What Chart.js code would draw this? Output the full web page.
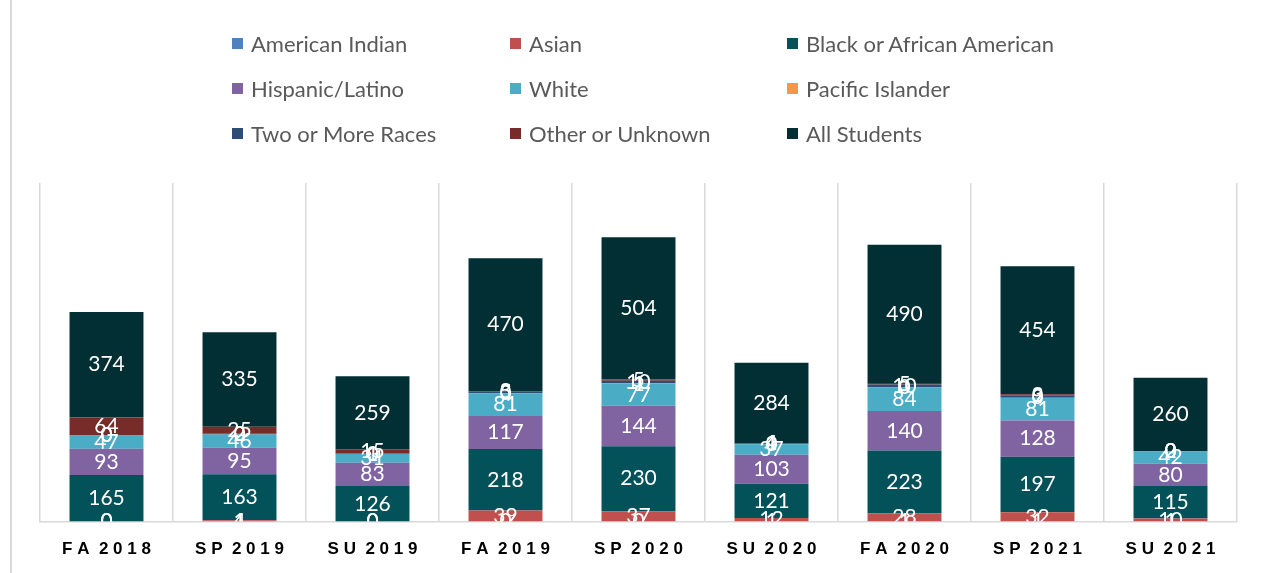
<!DOCTYPE html>
<html>
<head>
<meta charset="utf-8">
<script src="https://cdn.jsdelivr.net/npm/chart.js@4.4.0/dist/chart.umd.min.js"></script>
<style>
  body { margin: 0; background: #fff; }
  .wrap { position: relative; width: 1264px; height: 573px; }
  .frame { position: absolute; left: 10px; top: 0; width: 2px; height: 573px; background: #d9d9d9; }
  .legend { position: absolute; left: 232px; top: 21px; display: grid; grid-template-columns: 278px 277px 300px; grid-auto-rows: 45px; font-family: Lato, "Noto Sans", sans-serif; font-size: 22px; color: #595959; }
  .legend div { display: flex; align-items: center; white-space: nowrap; }
  .legend span { display: inline-block; width: 11px; height: 11px; margin-right: 8px; }
</style>
</head>
<body>
<div class="wrap">
  <div class="frame"></div>
  <canvas id="enrollChart"></canvas>
  <div class="legend" id="legend"></div>
</div>
<script>
// terms on the x axis
const terms = ['FA 2018', 'SP 2019', 'SU 2019', 'FA 2019', 'SP 2020', 'SU 2020', 'FA 2020', 'SP 2021', 'SU 2021'];

// headcounts per group (bottom of stack first)
const americanIndian = [0, 1, 0, 0, 0, 1, 1, 1, 1];
const asian = [0, 4, 0, 39, 37, 12, 28, 32, 10];
const black = [165, 163, 126, 218, 230, 121, 223, 197, 115];
const hispanic = [93, 95, 83, 117, 144, 103, 140, 128, 80];
const white = [47, 46, 31, 81, 77, 37, 84, 81, 42];
const pacificIslander = [0, 0, 0, 0, 1, 0, 0, 0, 0];
const twoOrMore = [0, 2, 1, 5, 10, 4, 10, 9, 2];
const otherUnknown = [64, 25, 15, 3, 5, 1, 5, 3, 0];
const allStudents = [374, 335, 259, 470, 504, 284, 490, 454, 260];

const series = [
  { label: 'American Indian', data: americanIndian, color: '#4F81BD' },
  { label: 'Asian', data: asian, color: '#C0504D' },
  { label: 'Black or African American', data: black, color: '#03525A' },
  { label: 'Hispanic/Latino', data: hispanic, color: '#8064A2' },
  { label: 'White', data: white, color: '#4BACC6' },
  { label: 'Pacific Islander', data: pacificIslander, color: '#F79646' },
  { label: 'Two or More Races', data: twoOrMore, color: '#2C4D75' },
  { label: 'Other or Unknown', data: otherUnknown, color: '#772C2A' },
  { label: 'All Students', data: allStudents, color: '#022F33' }
];

// html legend, 3 columns like the original
const legendEl = document.getElementById('legend');
series.forEach(s => {
  const item = document.createElement('div');
  item.innerHTML = '<span style="background:' + s.color + '"></span>' + s.label;
  legendEl.appendChild(item);
});

// white value labels centred in each segment
const segmentLabels = {
  id: 'segmentLabels',
  afterDatasetsDraw(chart) {
    const ctx = chart.ctx;
    const area = chart.chartArea;
    ctx.save();
    ctx.beginPath();
    ctx.rect(area.left, area.top, area.right - area.left, area.bottom - area.top);
    ctx.clip();
    ctx.fillStyle = '#ffffff';
    ctx.font = '21px Lato, "Noto Sans", sans-serif';
    ctx.textAlign = 'center';
    ctx.textBaseline = 'middle';
    chart.data.datasets.forEach((ds, i) => {
      chart.getDatasetMeta(i).data.forEach((bar, j) => {
        const p = bar.getProps(['x', 'y', 'base'], true);
        ctx.fillText(String(ds.data[j]), p.x, (p.y + p.base) / 2);
      });
    });
    ctx.restore();
  }
};

const spaced = t => t.split('').join(' ').replace('   ', '  ');

new Chart(document.getElementById('enrollChart').getContext('2d'), {
  type: 'bar',
  data: {
    labels: terms,
    datasets: series.map(s => ({
      label: s.label,
      data: s.data,
      backgroundColor: s.color,
      borderWidth: 0,
      barPercentage: 0.556,
      categoryPercentage: 1
    }))
  },
  options: {
    responsive: true,
    maintainAspectRatio: false,
    animation: false,
    layout: { padding: { top: 183, left: 40, right: 27, bottom: -5 } },
    plugins: {
      legend: { display: false },
      tooltip: { enabled: false }
    },
    scales: {
      x: {
        stacked: true,
        offset: true,
        grid: { offset: true, color: '#d9d9d9', lineWidth: 1.5, drawTicks: false },
        border: { color: '#d9d9d9', width: 1.5 },
        ticks: {
          padding: 18,
          color: '#000000',
          font: { family: '"Liberation Sans", Arial, sans-serif', size: 17, weight: 'bold' },
          callback: (v, i) => spaced(terms[i])
        }
      },
      y: {
        stacked: true,
        display: false,
        min: 0,
        max: 1200
      }
    }
  },
  plugins: [segmentLabels]
});
</script>
</body>
</html>
